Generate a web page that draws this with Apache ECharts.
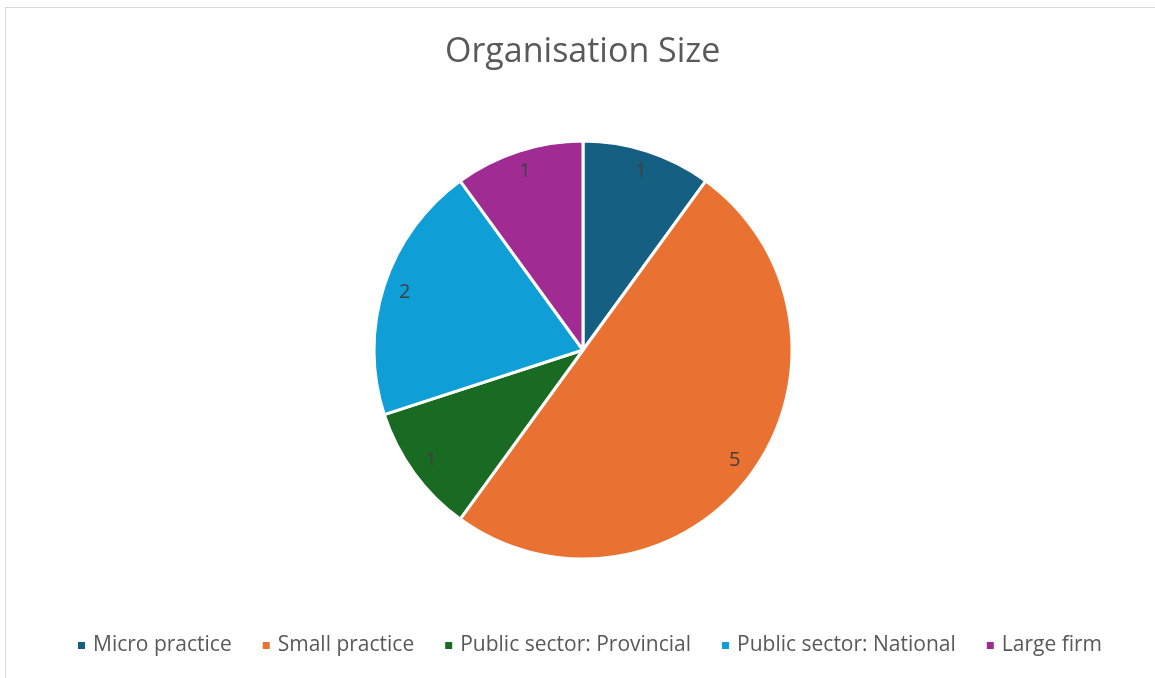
<!DOCTYPE html>
<html>
<head>
<meta charset="utf-8">
<script src="https://cdn.jsdelivr.net/npm/echarts@6/dist/echarts.min.js"></script>
<style>
html,body{margin:0;padding:0;background:#fff;}
#frame{position:absolute;left:5px;top:7px;width:1200px;height:700px;border-top:1px solid #d9d9d9;border-left:1px solid #d9d9d9;}
#chart{position:absolute;left:0;top:0;width:1155px;height:678px;}
</style>
</head>
<body>
<div id="frame"></div>
<div id="chart"></div>
<script>
const categories = ["Micro practice", "Small practice", "Public sector: Provincial", "Public sector: National", "Large firm"];
const values = [1, 5, 1, 2, 1];
const colors = ["#156082", "#E97132", "#196B24", "#0F9ED5", "#A02B93"];
const titleText = "Organisation Size";

const data = categories.map((c, i) => ({ name: c, value: values[i], itemStyle: { color: colors[i] } }));
const font = "'Open Sans', 'Noto Sans', sans-serif";

const chart = echarts.init(document.getElementById('chart'), null, { renderer: 'canvas' });
chart.setOption({
  animation: false,
  backgroundColor: 'transparent',
  title: {
    text: titleText, left: 440, top: 30,
    textStyle: { fontFamily: font, fontSize: 34, fontWeight: 'normal', color: '#595959' }
  },
  legend: {
    bottom: 17, left: 71, itemWidth: 9, itemHeight: 9, itemGap: 29,
    icon: 'rect',
    textStyle: { fontFamily: font, fontSize: 21, color: '#595959', padding: [0, 0, 0, 2] },
    data: categories
  },
  series: [
    {
      type: 'pie', center: [583, 350], radius: [0, 209], startAngle: 90, clockwise: true,
      itemStyle: { borderColor: '#fff', borderWidth: 3 },
      label: { show: false }, labelLine: { show: false },
      emphasis: { disabled: true },
      data: data
    },
    {
      type: 'pie', center: [583, 350], radius: [160, 209], startAngle: 90, clockwise: true,
      silent: true, legendHoverLink: false,
      itemStyle: { color: 'transparent', borderWidth: 0 },
      label: { show: true, position: 'inside', formatter: '{c}', fontFamily: font, fontSize: 20, color: '#404040' },
      labelLine: { show: false },
      emphasis: { disabled: true },
      data: categories.map((c, i) => ({ name: c, value: values[i], itemStyle: { color: 'transparent' } }))
    }
  ]
});
</script>
</body>
</html>
